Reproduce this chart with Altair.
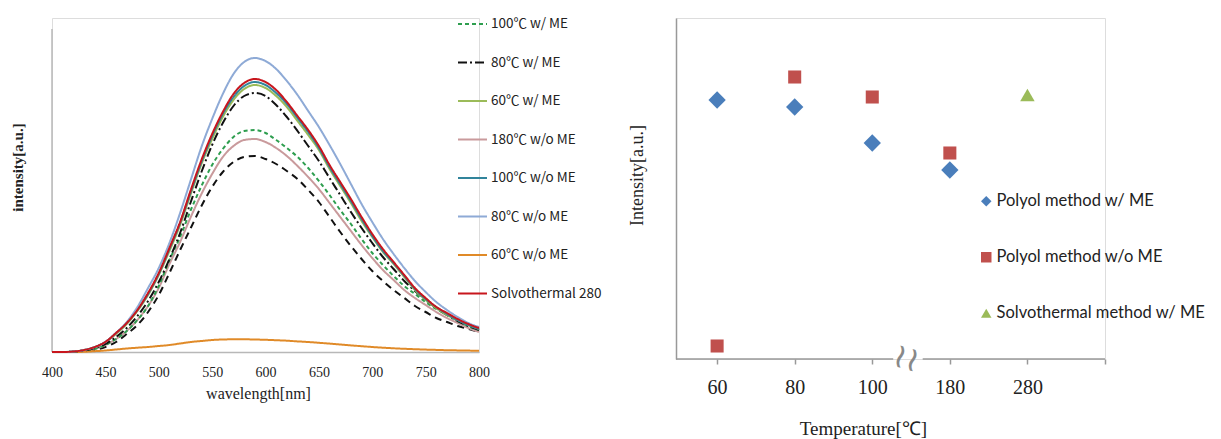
import altair as alt
import pandas as pd

# ---------------- left panel: PL spectra ----------------
wavelength = list(range(400, 801, 10))

int_100_wME = [0, 0, 0.3, 1, 3, 7, 13, 21, 32, 46, 66, 92, 115, 142, 166, 187, 203, 215, 221, 222,
               219, 212, 204, 195, 184, 171, 157, 142, 128, 113, 99, 87, 76, 66, 58, 50, 43, 37, 31, 26, 22]
int_80_wME = [0, 0, 0.3, 1.5, 4, 8, 15, 24, 36, 51, 70, 93, 119, 150, 180, 207, 229, 246, 256, 259,
              256, 247, 235, 221, 206, 191, 174, 157, 140, 124, 109, 95, 83, 71, 61, 52, 44, 37, 31, 26, 22]
int_60_wME = [0, 0, 0.5, 2, 5, 10, 18, 28, 41, 57, 77, 101, 127, 158, 188, 213, 235, 252, 263, 267,
              264, 256, 245, 231, 217, 202, 183, 166, 149, 131, 115, 100, 88, 75, 62, 52, 44, 37, 32, 27, 23]
int_180_woME = [0, 0, 0.3, 1, 3, 7, 13, 21, 32, 46, 64, 88, 110, 135, 158, 178, 195, 206, 212, 213,
                210, 204, 196, 186, 175, 163, 149, 135, 121, 107, 94, 82, 72, 62, 54, 47, 40, 34, 29, 24, 20]
int_100_woME = [0, 0, 0.5, 2, 5, 10, 19, 29, 42, 58, 78, 103, 129, 160, 190, 216, 238, 255, 266, 270,
                267, 259, 248, 234, 220, 204, 185, 168, 151, 133, 116, 101, 89, 76, 63, 53, 45, 38, 32, 27, 23]
int_80_woME = [0, 0, 0.5, 2, 5, 10, 19, 30, 45, 64, 84, 109, 139, 172, 205, 233, 258, 278, 290, 294,
               291, 283, 271, 257, 241, 225, 207, 188, 168, 148, 130, 113, 98, 84, 71, 60, 50, 42, 35, 29, 25]
int_60_woME = [0, 0, 0, 0.2, 0.8, 1.5, 2.5, 3.5, 4.3, 5, 6, 7, 8.5, 10, 11, 12, 12.5, 12.7, 12.7, 12.5,
               12.2, 11.8, 11.3, 10.6, 10, 9.2, 8.4, 7.5, 6.6, 5.8, 5, 4.3, 3.7, 3.2, 2.8, 2.4, 2.1, 1.8, 1.6, 1.4, 1.3]
int_solvo_280 = [0, 0, 0.5, 2, 5, 10, 19, 29, 42, 59, 79, 104, 130, 162, 192, 218, 240, 258, 269, 273,
                 270, 262, 250, 236, 222, 206, 187, 170, 153, 135, 118, 103, 90, 77, 64, 54, 45, 39, 33, 28, 24]
int_180_wME = [0, 0, 0.2, 1, 2, 5, 10, 18, 27, 40, 57, 79, 102, 124, 146, 165, 180, 190, 195, 196,
               193, 188, 181, 173, 162, 150, 135, 120, 106, 93, 81, 71, 62, 54, 46, 40, 34, 30, 26, 23, 20]

legend_names = ["100℃ w/ ME", "80℃ w/ ME", "60℃ w/ ME", "180℃ w/o ME", "100℃ w/o ME",
                "80℃ w/o ME", "60℃ w/o ME", "Solvothermal 280"]
extra_name = "180℃ w/ ME"
all_names = legend_names + [extra_name]
line_colors = ["#2e9e4f", "#111111", "#9bbb59", "#c99a9c", "#31849b",
               "#8eaad6", "#e08a28", "#c8161d", "#111111"]
line_dashes = [[4, 3], [9, 3, 2, 3], [1, 0], [1, 0], [1, 0], [1, 0], [1, 0], [1, 0], [7, 5]]

series_map = {
    "100℃ w/ ME": int_100_wME, "80℃ w/ ME": int_80_wME, "60℃ w/ ME": int_60_wME,
    "180℃ w/o ME": int_180_woME, "100℃ w/o ME": int_100_woME, "80℃ w/o ME": int_80_woME,
    "60℃ w/o ME": int_60_woME, "Solvothermal 280": int_solvo_280, "180℃ w/ ME": int_180_wME,
}
draw_order = ["180℃ w/ ME", "180℃ w/o ME", "100℃ w/ ME", "60℃ w/o ME", "80℃ w/ ME",
              "60℃ w/ ME", "100℃ w/o ME", "80℃ w/o ME", "Solvothermal 280"]
rows = []
for name in draw_order:
    for w, v in zip(wavelength, series_map[name]):
        rows.append({"wavelength": w, "intensity": v, "series": name})
left_df = pd.DataFrame(rows)

SERIF = "Liberation Serif"
SANS = "Lato"
CJK = "Noto Sans CJK JP"

left_x_scale = alt.Scale(domain=[400, 800], nice=False)
left_y_scale = alt.Scale(domain=[0, 334], nice=False)
left_x_axis = alt.Axis(values=[400, 450, 500, 550, 600, 650, 700, 750, 800], ticks=False, grid=False,
                       domainColor="#b8b8b8", domainWidth=1.5, labelFlush=False, labelOverlap=False,
                       labelFont=SERIF, labelFontSize=14, labelColor="#222222", labelPadding=13,
                       title="wavelength[nm]", titleFont=SERIF, titleFontSize=16,
                       titleFontWeight="normal", titleColor="#222222", titlePadding=6, titleX=206)
left_y_axis = alt.Axis(labels=False, ticks=False, grid=False, domain=False,
                       title="intensity[a.u.]", titleFont=SERIF, titleFontSize=15,
                       titleFontWeight="bold", titleColor="#222222", titlePadding=27, titleY=149)

leg_left = alt.Legend(values=legend_names, orient="none", legendX=405, legendY=-9.5, title=None,
                      symbolType="stroke", symbolSize=841, symbolStrokeWidth=2,
                      labelFont=CJK, labelFontSize=13.5, labelColor="#222222", labelOffset=3,
                      rowPadding=16.5, padding=0, labelLimit=300)

left_axis_line = alt.Chart(pd.DataFrame({"wavelength": [400]})).mark_rule(
    color="#b8b8b8", strokeWidth=1.5
).encode(
    x=alt.X("wavelength:Q", scale=left_x_scale, axis=left_x_axis),
    y=alt.Y(datum=0, scale=left_y_scale, axis=left_y_axis),
    y2=alt.Y2(datum=323),
)

left_lines = alt.Chart(left_df).mark_line(strokeWidth=2, interpolate="monotone").encode(
    x=alt.X("wavelength:Q", scale=left_x_scale, axis=left_x_axis),
    y=alt.Y("intensity:Q", scale=left_y_scale, axis=left_y_axis),
    color=alt.Color("series:N", scale=alt.Scale(domain=all_names, range=line_colors), legend=leg_left),
    strokeDash=alt.StrokeDash("series:N", scale=alt.Scale(domain=all_names, range=line_dashes),
                              legend=leg_left),
)

left = alt.layer(left_axis_line, left_lines).properties(width=427, height=334)

# ---------------- right panel: intensity vs temperature ----------------
temp_labels = ["60", "80", "100", "180", "280", ""]
method_names = ["Polyol method w/ ME", "Polyol method w/o ME", "Solvothermal method w/ ME"]
method_colors = ["#4a7ebb", "#c0504d", "#9bbb59"]
method_shapes = ["diamond", "square", "triangle-up"]
method_sizes = [300, 170, 210]
polyol_wME_idx = [0, 1, 2, 3]
polyol_wME_val = [259, 252, 216, 189]
polyol_woME_idx = [0, 1, 2, 3]
polyol_woME_val = [13, 282, 262, 206]
solvo_idx = [4]
solvo_val = [264]

pts = []
for i, v in zip(polyol_wME_idx, polyol_wME_val):
    pts.append({"idx": i, "val": v, "method": method_names[0]})
for i, v in zip(polyol_woME_idx, polyol_woME_val):
    pts.append({"idx": i, "val": v, "method": method_names[1]})
for i, v in zip(solvo_idx, solvo_val):
    pts.append({"idx": i, "val": v, "method": method_names[2]})
right_df = pd.DataFrame(pts)

axis_start = [-0.53, 2.65]
axis_end = [2.27, 5.0]
seg_df = pd.DataFrame({"idx": axis_start, "idx_end": axis_end})

label_expr = "[" + ",".join("'" + t + "'" for t in temp_labels) + "][datum.value]"
x_scale = alt.Scale(domain=[-0.53, 5.0], nice=False, zero=False)
x_axis = alt.Axis(values=[0, 1, 2, 3, 4, 5], labelExpr=label_expr, domain=False, grid=False,
                  ticks=True, tickColor="#999999", tickSize=5, tickWidth=1.5,
                  labelFont=SERIF, labelFontSize=20, labelColor="#222222", labelPadding=13,
                  title="Temperature[℃]", titleFont=SERIF, titleFontSize=19, titleFontWeight="normal",
                  titleColor="#222222", titlePadding=22, titleX=187)
y_scale = alt.Scale(domain=[0, 341], nice=False)
y_axis = alt.Axis(labels=False, ticks=False, grid=False, domainColor="#999999", domainWidth=1.5,
                  title="Intensity[a.u.]", titleFont=SERIF, titleFontSize=18, titleFontWeight="normal",
                  titleColor="#222222", titlePadding=30, titleY=157)

leg_right = alt.Legend(orient="none", legendX=302, legendY=175, title=None,
                       labelFont=SANS, labelFontSize=16.5, labelColor="#222222", symbolSize=110,
                       rowPadding=39, padding=0, labelOffset=2, labelLimit=400)

axis_line = alt.Chart(seg_df).mark_rule(color="#999999", strokeWidth=1.5).encode(
    x=alt.X("idx:Q", scale=x_scale, axis=x_axis),
    x2="idx_end:Q",
    y=alt.Y(datum=0, scale=y_scale, axis=y_axis),
)

squiggle = alt.Chart(pd.DataFrame({"idx": [2.44]})).mark_text(
    text="≀≀", font="DejaVu Sans", fontSize=34, color="#888888", angle=15
).encode(x=alt.X("idx:Q", scale=x_scale, axis=x_axis), y=alt.Y(datum=0, scale=y_scale, axis=y_axis))

point_layers = []
for name, sz in zip(method_names, method_sizes):
    point_layers.append(
        alt.Chart(right_df).transform_filter(alt.datum.method == name)
        .mark_point(filled=True, opacity=1, size=sz).encode(
            x=alt.X("idx:Q", scale=x_scale, axis=x_axis),
            y=alt.Y("val:Q", scale=y_scale, axis=y_axis),
            color=alt.Color("method:N", scale=alt.Scale(domain=method_names, range=method_colors),
                            legend=leg_right),
            shape=alt.Shape("method:N", scale=alt.Scale(domain=method_names, range=method_shapes),
                            legend=leg_right),
        )
    )

right = alt.layer(axis_line, squiggle, *point_layers).properties(width=429, height=341)

chart = alt.hconcat(left, right, spacing=24).resolve_scale(
    color="independent", strokeDash="independent", shape="independent"
).resolve_legend(
    color="independent", strokeDash="independent", shape="independent"
).properties(
    padding={"left": 1, "top": 0, "right": 0, "bottom": 0}
).configure_view(stroke=None).configure(background="white")

chart.save("out.html", embed_options={"renderer": "svg", "actions": False})
